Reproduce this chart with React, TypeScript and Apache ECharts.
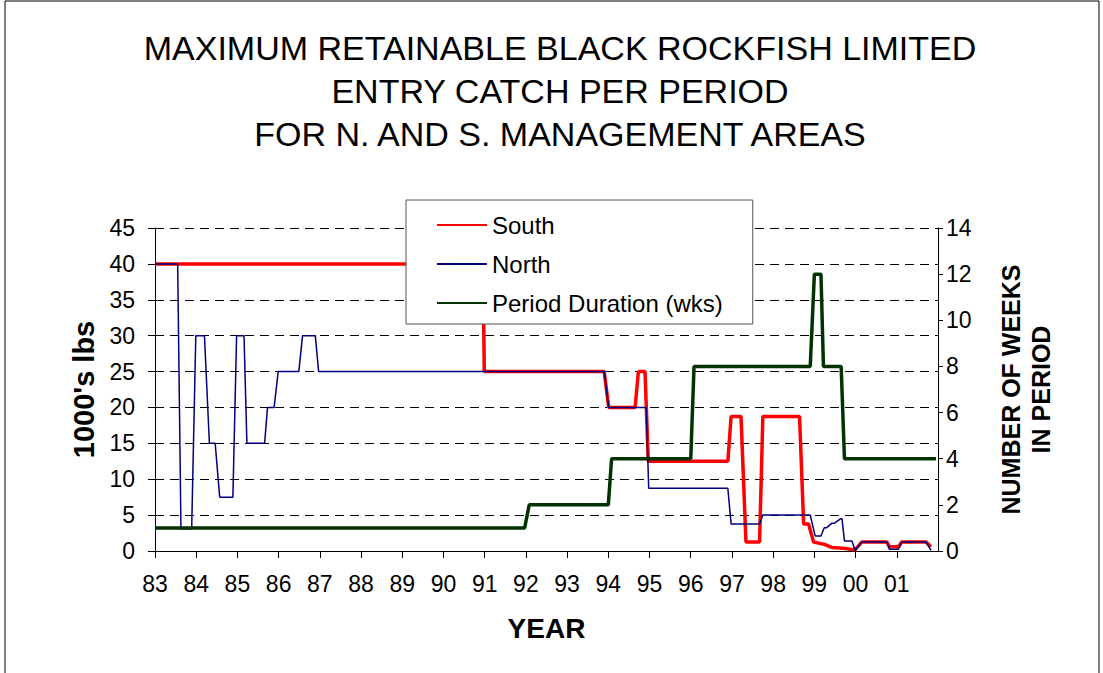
import React, { useEffect, useRef } from "react";
import * as echarts from "echarts";

const titleLines = [
  "MAXIMUM RETAINABLE BLACK ROCKFISH LIMITED",
  "ENTRY CATCH PER PERIOD",
  "FOR N. AND S. MANAGEMENT AREAS",
];

const seriesNames = ["South", "North", "Period Duration (wks)"];

// [year (83 = 1983), 1000's lbs]
const southData: [number, number][] = [
  [83, 40], [90.96, 40], [90.99, 25], [93.9, 25], [94.01, 20], [94.65, 20], [94.73, 25],
  [94.89, 25], [94.97, 12.5], [96.9, 12.5], [96.98, 18.75], [97.22, 18.75], [97.34, 1.25],
  [97.67, 1.25], [97.75, 18.75], [98.64, 18.75], [98.74, 3.75], [98.86, 3.75], [98.98, 1.25],
  [99.1, 1.1], [99.26, 0.9], [99.42, 0.5], [99.7, 0.4], [99.9, 0.2], [99.99, 0.2],
  [100.15, 1.25], [100.76, 1.25], [100.82, 0.6], [101.04, 0.6], [101.12, 1.25],
  [101.71, 1.25], [101.83, 0.6],
];

const northData: [number, number][] = [
  [83, 40], [83.55, 40], [83.63, 3.1], [83.89, 3.1], [83.99, 30], [84.2, 30], [84.32, 15],
  [84.46, 15], [84.57, 7.5], [84.89, 7.5], [84.98, 30], [85.16, 30], [85.23, 15], [85.66, 15],
  [85.73, 20], [85.89, 20], [85.99, 25], [86.49, 25], [86.58, 30], [86.89, 30], [86.97, 25],
  [93.9, 25], [94.01, 20], [94.92, 20], [94.98, 8.75], [96.9, 8.75], [96.98, 3.75],
  [97.67, 3.75], [97.75, 5], [98.9, 5], [99.02, 2.1], [99.16, 2.1], [99.24, 3.25],
  [99.3, 3.25], [99.42, 3.85], [99.48, 3.85], [99.64, 4.5], [99.67, 4.5], [99.73, 1.4],
  [99.91, 1.4], [99.99, 0.1], [100.15, 1.25], [100.76, 1.25], [100.82, 0.25], [101.04, 0.25],
  [101.12, 1.25], [101.71, 1.25], [101.83, 0.1],
];

// [year, weeks in period]
const periodData: [number, number][] = [
  [83, 1], [91.97, 1], [92.08, 2], [94.0, 2], [94.08, 4], [96.0, 4], [96.08, 8], [98.9, 8],
  [99.0, 12], [99.16, 12], [99.22, 8], [99.65, 8], [99.73, 4], [101.95, 4],
];

const FONT = "'Liberation Sans', Arial, sans-serif";

export default function App() {
  const ref = useRef<HTMLDivElement>(null);
  useEffect(() => {
    if (!ref.current) return;
    const chart = echarts.init(ref.current, null, { renderer: "svg" });
    chart.setOption({
      animation: false,
      backgroundColor: "#ffffff",
      textStyle: { fontFamily: FONT },
      title: {
        text: titleLines.join("\n"),
        left: 560,
        top: 26,
        textAlign: "center",
        padding: 0,
        textStyle: {
          fontFamily: FONT,
          fontSize: 34,
          lineHeight: 43,
          fontWeight: "normal",
          color: "#000",
        },
      },
      graphic: [
        {
          type: "rect",
          shape: { x: 5, y: 1, width: 1094, height: 700 },
          style: { fill: "none", stroke: "#000", lineWidth: 1 },
          silent: true,
          z: -10,
        },
      ],
      legend: {
        data: seriesNames,
        orient: "vertical",
        left: 406,
        top: 200,
        padding: [13, 30, 9, 30],
        itemGap: 15,
        itemWidth: 50,
        itemHeight: 14,
        itemStyle: { opacity: 0 },
        backgroundColor: "#ffffff",
        borderColor: "#555",
        borderWidth: 1,
        textStyle: { fontFamily: FONT, fontSize: 24, color: "#000" },
        z: 10,
      },
      grid: { left: 155, right: 165, top: 228, bottom: 122 },
      xAxis: {
        type: "value",
        min: 83,
        max: 102,
        interval: 1,
        name: "YEAR",
        nameLocation: "middle",
        nameGap: 63,
        nameTextStyle: { fontFamily: FONT, fontSize: 28, fontWeight: "bold", color: "#000" },
        axisLine: { show: true, lineStyle: { color: "#000", width: 1 } },
        axisTick: { show: true, length: 7, lineStyle: { color: "#000" } },
        axisLabel: {
          fontFamily: FONT,
          fontSize: 23,
          color: "#000",
          margin: 21,
          showMaxLabel: false,
          formatter: (v: number) => (v >= 102 ? "" : String(v % 100).padStart(2, "0")),
        },
        splitLine: { show: false },
      },
      yAxis: [
        {
          type: "value",
          min: 0,
          max: 45,
          interval: 5,
          name: "1000's lbs",
          nameLocation: "middle",
          nameRotate: 90,
          nameGap: 57,
          nameTextStyle: { fontFamily: FONT, fontSize: 29, fontWeight: "bold", color: "#000" },
          axisLine: { show: true, lineStyle: { color: "#000", width: 1 } },
          axisTick: { show: true, length: 7, lineStyle: { color: "#000" } },
          axisLabel: { fontFamily: FONT, fontSize: 23, color: "#000", margin: 20 },
          splitLine: { show: true, lineStyle: { color: "#000", type: [9, 6], width: 1 } },
        },
        {
          type: "value",
          min: 0,
          max: 14,
          interval: 2,
          position: "right",
          name: "NUMBER OF WEEKS\nIN PERIOD",
          nameLocation: "middle",
          nameRotate: 90,
          nameGap: 58,
          nameTextStyle: {
            fontFamily: FONT,
            fontSize: 25,
            fontWeight: "bold",
            color: "#000",
            lineHeight: 30,
          },
          axisLine: { show: true, lineStyle: { color: "#000", width: 1 } },
          axisTick: { show: true, length: 5, lineStyle: { color: "#000" } },
          axisLabel: { fontFamily: FONT, fontSize: 23, color: "#000", margin: 8 },
          splitLine: { show: false },
        },
      ],
      series: [
        {
          name: seriesNames[0],
          type: "line",
          yAxisIndex: 0,
          data: southData,
          symbol: "none",
          lineStyle: { color: "#ff0000", width: 3.5 },
          itemStyle: { color: "#ff0000" },
          z: 2,
        },
        {
          name: seriesNames[1],
          type: "line",
          yAxisIndex: 0,
          data: northData,
          symbol: "none",
          lineStyle: { color: "#000080", width: 1.5 },
          itemStyle: { color: "#000080" },
          z: 3,
        },
        {
          name: seriesNames[2],
          type: "line",
          yAxisIndex: 1,
          data: periodData,
          symbol: "none",
          lineStyle: { color: "#003300", width: 3.5 },
          itemStyle: { color: "#003300" },
          z: 4,
        },
      ],
    });
    return () => chart.dispose();
  }, []);
  return (
    <div
      ref={ref}
      style={{ position: "fixed", left: 0, top: 0, width: 1103, height: 673 }}
    />
  );
}
